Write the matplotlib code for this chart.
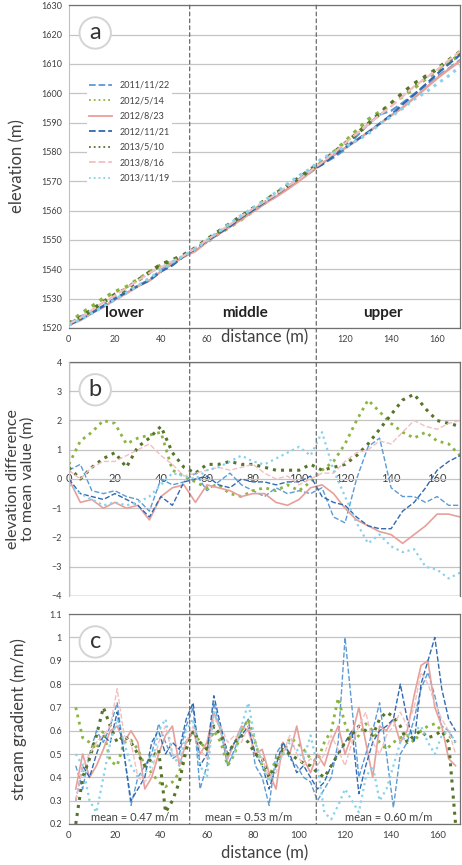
import numpy as np
import matplotlib.pyplot as plt
from matplotlib.patches import ConnectionPatch, Rectangle

plt.rcParams['font.family'] = ['Lato', 'DejaVu Sans']

# survey dates and line styles
dates = ['2011/11/22', '2012/5/14', '2012/8/23', '2012/11/21',
         '2013/5/10', '2013/8/16', '2013/11/19']
colors = ['#5b9bd5', '#8cb440', '#e89f9a', '#3169b0', '#56752b', '#f3bfc0', '#88d2ea']
styles = ['--', ':', '-', '--', ':', '--', ':']
widths = [1.0, 2.0, 1.2, 1.0, 2.2, 1.0, 1.6]

# distance grid for panels a and b (m)
dist_b = list(range(0, 171, 5))

# mean elevation of all surveys (m)
mean_elev = [1521.0, 1523.4, 1525.7, 1528.1, 1530.4, 1532.8, 1535.1, 1537.5, 1539.8,
             1542.2, 1544.5, 1547.0, 1549.6, 1552.3, 1554.9, 1557.6, 1560.2, 1562.9,
             1565.5, 1568.2, 1570.8, 1573.5, 1576.2, 1579.3, 1582.3, 1585.3, 1588.3,
             1591.3, 1594.3, 1597.3, 1600.3, 1603.3, 1606.3, 1609.3, 1612.3]

# elevation difference to mean value (m)
diff_20111122 = [0.3, 0.5, -0.4, -0.5, -0.4, -0.6, -0.7, -1.1, 0.0, -0.2, -0.1, 0.2,
                 -0.4, -0.1, 0.2, -0.2, -0.4, -0.6, -0.3, -0.5, -0.4, -0.5, -0.3, -1.3,
                 -1.5, 0.0, 1.1, 1.4, -0.3, -0.6, -0.6, -0.8, -0.6, -0.9, -0.9]
diff_20120514 = [0.5, 1.3, 1.6, 2.0, 1.9, 1.2, 1.4, 1.5, 1.6, 0.3, 0.1, -0.1,
                 -0.3, -0.2, -0.5, -0.6, -0.4, -0.3, -0.4, -0.2, -0.4, -0.1, 0.3, 0.6,
                 1.2, 2.0, 2.7, 2.3, 1.9, 1.6, 1.4, 1.6, 1.3, 1.2, 0.8]
diff_20120823 = [0.0, -0.8, -0.7, -1.0, -0.8, -1.0, -0.9, -1.4, -0.6, -0.3, -0.2, -0.8,
                 -0.2, -0.3, -0.4, -0.6, -0.5, -0.5, -0.8, -0.9, -0.7, -0.3, -0.2, -0.5,
                 -1.0, -1.4, -1.6, -1.8, -1.9, -2.2, -1.9, -1.6, -1.2, -1.2, -1.3]
diff_20121121 = [0.0, -0.5, -0.6, -0.7, -0.5, -0.7, -0.9, -1.3, -0.6, -0.9, -0.1, 0.0,
                 0.1, -0.2, -0.3, 0.0, -0.1, -0.1, -0.2, -0.1, -0.1, 0.1, -0.6, -0.8,
                 -0.9, -1.3, -1.6, -1.7, -1.7, -1.1, -0.8, -0.3, 0.3, 0.6, 0.8]
diff_20130510 = [0.4, 0.0, 0.4, 0.7, 0.9, 0.4, 1.1, 1.4, 1.8, 0.9, 0.4, 0.2,
                 0.5, 0.5, 0.6, 0.5, 0.5, 0.4, 0.3, 0.3, 0.3, 0.5, 0.3, 0.4,
                 0.5, 0.8, 1.2, 1.7, 2.2, 2.7, 2.9, 2.4, 2.0, 1.9, 1.8]
diff_20130816 = [0.3, 0.0, 0.4, 0.6, 0.6, 0.8, 1.0, 1.2, 0.8, 0.5, 0.1, 0.2,
                 0.3, 0.4, 0.3, 0.4, 0.5, 0.2, 0.0, 0.1, -0.2, 0.0, 0.2, 0.2,
                 0.6, 0.9, 1.0, 1.3, 1.2, 1.6, 2.0, 1.8, 1.7, 1.9, 2.0]
diff_20131119 = [-0.2, -0.5, -0.7, -0.9, -0.8, -0.9, -0.8, -0.6, -0.2, 0.2, 0.1, 0.0,
                 0.3, 0.4, 0.6, 0.8, 0.6, 0.5, 0.7, 0.9, 1.1, 0.8, 1.6, 0.3,
                 -0.6, -1.5, -2.2, -1.9, -2.3, -2.5, -2.4, -3.0, -3.1, -3.4, -3.2]
diffs = [diff_20111122, diff_20120514, diff_20120823, diff_20121121,
         diff_20130510, diff_20130816, diff_20131119]

# distance grid for panel c (m)
dist_c = list(range(3, 169, 3))

# stream gradient (m/m)
grad_20111122 = [0.45, 0.35, 0.50, 0.60, 0.55, 0.62, 0.72, 0.50, 0.28, 0.40, 0.45, 0.50,
                 0.63, 0.55, 0.48, 0.50, 0.62, 0.70, 0.35, 0.45, 0.72, 0.60, 0.45, 0.52,
                 0.60, 0.65, 0.45, 0.40, 0.28, 0.50, 0.55, 0.48, 0.45, 0.40, 0.38, 0.30,
                 0.35, 0.40, 0.55, 1.00, 0.70, 0.40, 0.50, 0.60, 0.72, 0.50, 0.27, 0.50,
                 0.55, 0.65, 0.78, 0.85, 0.75, 0.62, 0.60, 0.55]
grad_20120514 = [0.70, 0.57, 0.55, 0.52, 0.60, 0.47, 0.45, 0.55, 0.56, 0.52, 0.45, 0.42,
                 0.38, 0.36, 0.38, 0.42, 0.55, 0.60, 0.55, 0.52, 0.60, 0.55, 0.45, 0.50,
                 0.60, 0.65, 0.55, 0.45, 0.40, 0.48, 0.50, 0.57, 0.55, 0.52, 0.48, 0.47,
                 0.55, 0.60, 0.74, 0.63, 0.55, 0.58, 0.63, 0.60, 0.55, 0.52, 0.55, 0.57,
                 0.58, 0.55, 0.60, 0.62, 0.63, 0.60, 0.58, 0.55]
grad_20120823 = [0.35, 0.50, 0.40, 0.45, 0.52, 0.60, 0.62, 0.55, 0.60, 0.55, 0.35, 0.40,
                 0.50, 0.58, 0.62, 0.45, 0.55, 0.60, 0.50, 0.55, 0.68, 0.60, 0.48, 0.55,
                 0.62, 0.60, 0.50, 0.52, 0.42, 0.35, 0.55, 0.50, 0.62, 0.48, 0.42, 0.50,
                 0.45, 0.55, 0.62, 0.50, 0.58, 0.70, 0.55, 0.40, 0.62, 0.60, 0.65, 0.55,
                 0.60, 0.75, 0.88, 0.90, 0.70, 0.62, 0.48, 0.45]
grad_20121121 = [0.30, 0.45, 0.40, 0.50, 0.58, 0.55, 0.68, 0.50, 0.30, 0.35, 0.40, 0.55,
                 0.60, 0.50, 0.55, 0.52, 0.65, 0.72, 0.45, 0.50, 0.75, 0.62, 0.50, 0.55,
                 0.58, 0.62, 0.50, 0.45, 0.35, 0.45, 0.55, 0.50, 0.42, 0.45, 0.40, 0.35,
                 0.38, 0.45, 0.50, 0.55, 0.60, 0.33, 0.45, 0.55, 0.60, 0.62, 0.65, 0.80,
                 0.65, 0.55, 0.80, 0.90, 1.00, 0.78, 0.65, 0.60]
grad_20130510 = [0.20, 0.40, 0.48, 0.58, 0.70, 0.62, 0.55, 0.58, 0.55, 0.50, 0.45, 0.48,
                 0.52, 0.25, 0.30, 0.38, 0.52, 0.60, 0.55, 0.52, 0.62, 0.58, 0.50, 0.55,
                 0.58, 0.55, 0.50, 0.48, 0.40, 0.45, 0.52, 0.50, 0.48, 0.46, 0.45, 0.42,
                 0.40, 0.45, 0.50, 0.55, 0.58, 0.62, 0.60, 0.58, 0.65, 0.68, 0.66, 0.62,
                 0.55, 0.58, 0.60, 0.57, 0.58, 0.60, 0.55, 0.20]
grad_20130816 = [0.30, 0.45, 0.50, 0.55, 0.58, 0.62, 0.78, 0.58, 0.55, 0.40, 0.38, 0.42,
                 0.55, 0.62, 0.50, 0.48, 0.55, 0.62, 0.52, 0.48, 0.65, 0.62, 0.55, 0.58,
                 0.55, 0.62, 0.55, 0.48, 0.40, 0.42, 0.50, 0.58, 0.50, 0.45, 0.48, 0.45,
                 0.50, 0.58, 0.52, 0.45, 0.55, 0.62, 0.68, 0.55, 0.50, 0.58, 0.62, 0.68,
                 0.62, 0.70, 0.85, 0.80, 0.72, 0.65, 0.60, 0.50]
grad_20131119 = [0.50, 0.45, 0.30, 0.25, 0.40, 0.55, 0.65, 0.55, 0.45, 0.40, 0.42, 0.45,
                 0.60, 0.65, 0.50, 0.45, 0.60, 0.65, 0.45, 0.40, 0.68, 0.60, 0.48, 0.50,
                 0.62, 0.72, 0.55, 0.45, 0.38, 0.45, 0.50, 0.55, 0.52, 0.48, 0.58, 0.45,
                 0.25, 0.22, 0.28, 0.35, 0.30, 0.25, 0.40, 0.45, 0.30, 0.35, 0.45, 0.55,
                 0.58, 0.60, 0.62, 0.55, 0.50, 0.58, 0.60, 0.55]
grads = [grad_20111122, grad_20120514, grad_20120823, grad_20121121,
         grad_20130510, grad_20130816, grad_20131119]

# reach boundaries and labels
bounds = [52.5, 107.5]
reach_names = ['lower', 'middle', 'upper']
reach_x = [24, 76.5, 136.5]
reach_means = ['mean = 0.47 m/m', 'mean = 0.53 m/m', 'mean = 0.60 m/m']
mean_x = [28.5, 78, 139]

txt = '#404040'
grid_c = '#c4c4c4'

fig = plt.figure(figsize=(4.62, 8.65), dpi=100)
ax_a = fig.add_axes([0.149, 0.621, 0.847, 0.373])
ax_b = fig.add_axes([0.149, 0.311, 0.847, 0.2705])
ax_c = fig.add_axes([0.149, 0.0474, 0.847, 0.2426])


def style_axes(ax):
    ax.set_xlim(0, 170)
    ax.grid(True, axis='y', color=grid_c, lw=0.9)
    ax.set_axisbelow(True)
    for side in ['top', 'right', 'bottom']:
        ax.spines[side].set_color('#707070')
        ax.spines[side].set_linewidth(0.9)
    ax.spines['left'].set_color('#c0c0c0')
    ax.tick_params(length=0, labelsize=6.5, colors=txt, pad=5)


def panel_tag(ax, letter):
    # circled panel letter, fixed offset from the top-left corner
    ax.annotate(letter, xy=(0, 1), xycoords='axes fraction', xytext=(19, -20),
                textcoords='offset points', fontsize=17, color='#333333',
                ha='center', va='center', zorder=20,
                bbox=dict(boxstyle='circle,pad=0.22', fc='white', ec='#d4d4d4', lw=1.4))


# --- panel a: elevation
mean_arr = np.array(mean_elev)
for d, c, ls, lw, dd in zip(dates, colors, styles, widths, diffs):
    ax_a.plot(dist_b, mean_arr + np.array(dd), ls=ls, color=c, lw=lw + 0.6, label=d)
style_axes(ax_a)
ax_a.set_ylim(1520, 1630)
ax_a.set_yticks(range(1520, 1631, 10))
ax_a.set_xticks(range(0, 161, 20))
ax_a.set_xticklabels(['0', '20', '40', '60', '', '', '120', '140', '160'])
ax_a.set_ylabel('elevation (m)', fontsize=12, color=txt)
ax_a.yaxis.set_label_coords(-0.112, 0.5)
ax_a.text(0.5, -0.03, 'distance (m)', transform=ax_a.transAxes, ha='center', va='center',
          fontsize=12, color=txt)
for name, xr in zip(reach_names, reach_x):
    ax_a.text(xr, 1525, name, ha='center', va='center', fontsize=11,
              fontweight='bold', color='#222222')
leg = ax_a.legend(loc='upper left', bbox_to_anchor=(0.035, 0.785), fontsize=6.5,
                  frameon=True, framealpha=1, edgecolor='none', handlelength=2.6,
                  labelspacing=0.72, borderpad=0.2)
for t in leg.get_texts():
    t.set_color(txt)
for h in leg.get_lines():
    h.set_linewidth(1.3)
panel_tag(ax_a, 'a')

# --- panel b: elevation difference
for d, c, ls, lw, dd in zip(dates, colors, styles, widths, diffs):
    ax_b.plot(dist_b, dd, ls=ls, color=c, lw=lw)
style_axes(ax_b)
ax_b.set_ylim(-4, 4)
ax_b.set_yticks(range(-4, 5))
ax_b.set_xticks(range(0, 161, 20))
ax_b.spines['bottom'].set_position(('data', 0))
ax_b.spines['bottom'].set_color('none')
ax_b.tick_params(axis='x', labelsize=8, pad=-4)
ax_b.add_patch(Rectangle((0, 0), 1, 1, transform=ax_b.transAxes, fill=False,
                         ec='#707070', lw=0.9, zorder=5))
ax_b.spines['left'].set_zorder(6)
ax_b.set_ylabel('elevation difference\nto mean value (m)', fontsize=11.5, color=txt,
                linespacing=1.0)
ax_b.yaxis.set_label_coords(-0.088, 0.5)
panel_tag(ax_b, 'b')

# --- panel c: stream gradient
for d, c, ls, lw, g in zip(dates, colors, styles, widths, grads):
    ax_c.plot(dist_c, g, ls=ls, color=c, lw=lw)
style_axes(ax_c)
ax_c.set_ylim(0.2, 1.1)
ax_c.set_yticks([0.2, 0.3, 0.4, 0.5, 0.6, 0.7, 0.8, 0.9, 1.0, 1.1])
ax_c.set_yticklabels(['0.2', '0.3', '0.4', '0.5', '0.6', '0.7', '0.8', '0.9', '1', '1.1'])
ax_c.set_xticks(range(0, 161, 20))
ax_c.tick_params(axis='x', labelsize=7)
ax_c.set_xlabel('distance (m)', fontsize=12, color=txt, labelpad=4)
ax_c.set_ylabel('stream gradient (m/m)', fontsize=12, color=txt)
ax_c.yaxis.set_label_coords(-0.107, 0.5)
for m, xm in zip(reach_means, mean_x):
    ax_c.text(xm, 0.228, m, ha='center', va='center', fontsize=8, color=txt)
panel_tag(ax_c, 'c')

# reach boundaries spanning all panels
for xb in bounds:
    con = ConnectionPatch(xyA=(xb, 1630), coordsA=ax_a.transData,
                          xyB=(xb, 0.2), coordsB=ax_c.transData,
                          color='#6a6a6a', lw=0.9, ls=(0, (3, 2.5)), zorder=10)
    fig.add_artist(con)

fig.savefig('out.png', dpi=100, facecolor='white')
